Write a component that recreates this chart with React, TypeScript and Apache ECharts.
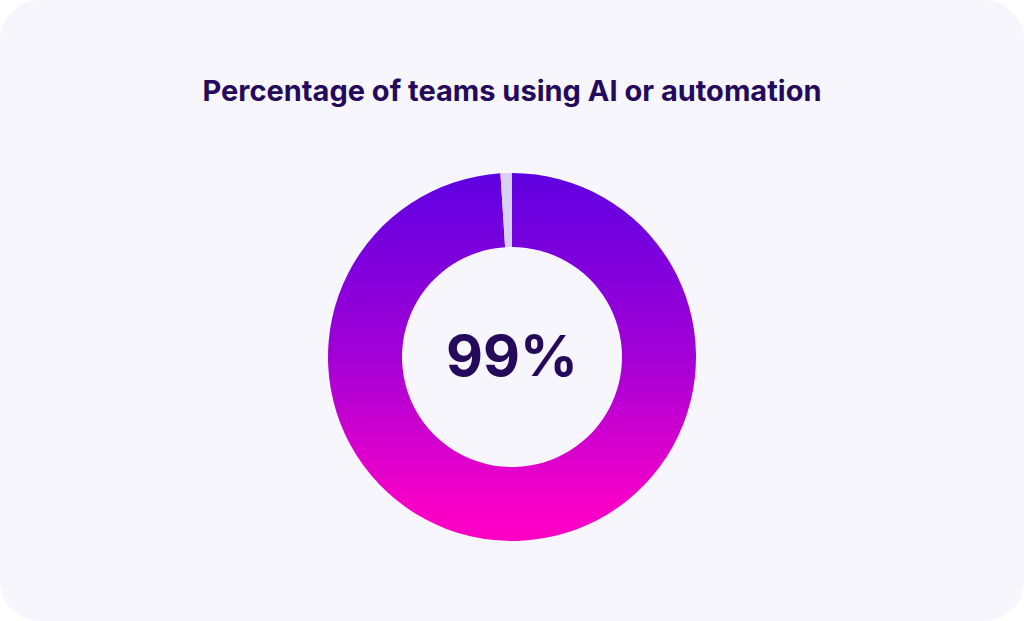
import React, { useEffect, useRef } from "react";
import * as echarts from "echarts";

const title = "Percentage of teams using AI or automation";
const categories = ["Using AI or automation", "Not using"];
const values = [99, 1];
const centerLabel = "99%";

export default function App() {
  const ref = useRef<HTMLDivElement>(null);
  useEffect(() => {
    document.body.style.margin = "0";
    const chart = echarts.init(ref.current!, null, { renderer: "svg" });
    chart.setOption({
      animation: false,
      title: {
        text: title,
        left: "center",
        top: 71,
        textStyle: {
          fontFamily: "Inter",
          fontWeight: 700,
          fontSize: 29,
          color: "#250a5c",
        },
      },
      graphic: [
        {
          type: "text",
          left: "center",
          top: 327,
          style: {
            text: centerLabel,
            fontFamily: "Inter",
            fontWeight: 700,
            fontSize: 57,
            fill: "#250a5c",
          },
        },
      ],
      series: [
        {
          type: "pie",
          center: [512, 357],
          radius: [110, 184],
          startAngle: 90,
          clockwise: true,
          label: { show: false },
          labelLine: { show: false },
          emphasis: { disabled: true },
          data: categories.map((name, i) => ({
            name,
            value: values[i],
            itemStyle:
              i === 0
                ? {
                    color: new echarts.graphic.LinearGradient(0, 0, 0, 1, [
                      { offset: 0, color: "#5e00e2" },
                      { offset: 0.5, color: "#a300d6" },
                      { offset: 0.9, color: "#f700c8" },
                      { offset: 1, color: "#ff00c4" },
                    ]),
                  }
                : { color: "#d9d0f5" },
          })),
        },
      ],
    });
    return () => chart.dispose();
  }, []);
  return (
    <div style={{ width: 1024, height: 621, background: "#ffffff", position: "relative" }}>
      <div
        ref={ref}
        style={{
          width: 1024,
          height: 621,
          background: "#f7f6fd",
          borderRadius: 40,
          overflow: "hidden",
        }}
      />
    </div>
  );
}
